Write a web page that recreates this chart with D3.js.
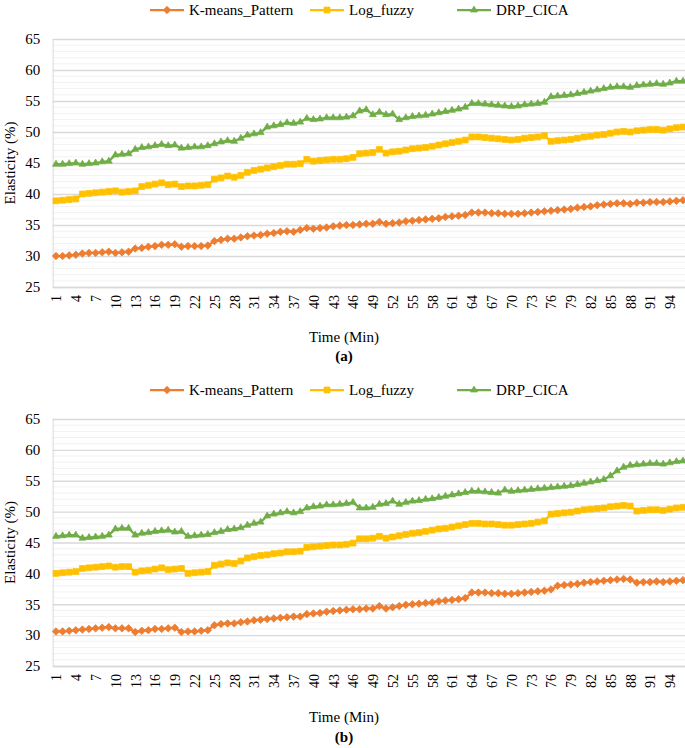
<!DOCTYPE html>
<html>
<head>
<meta charset="utf-8">
<script src="https://cdn.jsdelivr.net/npm/d3@7"></script>
<style>
  html, body { margin: 0; padding: 0; background: #fff; }
  svg { display: block; }
  svg text { font-family: "Liberation Serif", "DejaVu Serif", serif !important; fill: #000; }
</style>
</head>
<body>
<svg id="chart" width="685" height="748"></svg>
<script>
// ---------- data ----------
const timeMin = [1,2,3,4,5,6,7,8,9,10,11,12,13,14,15,16,17,18,19,20,21,22,23,24,25,26,27,28,29,30,31,32,33,34,35,36,37,38,39,40,41,42,43,44,45,46,47,48,49,50,51,52,53,54,55,56,57,58,59,60,61,62,63,64,65,66,67,68,69,70,71,72,73,74,75,76,77,78,79,80,81,82,83,84,85,86,87,88,89,90,91,92,93,94,95,96];
const tickLabels = [1,4,7,10,13,16,19,22,25,28,31,34,37,40,43,46,49,52,55,58,61,64,67,70,73,76,79,82,85,88,91,94];
const yTicks = [25,30,35,40,45,50,55,60,65];
const seriesNames = ["K-means_Pattern", "Log_fuzzy", "DRP_CICA"];

// Panel (a)
const kmeansA = [30.0,30.0,30.1,30.2,30.4,30.5,30.5,30.6,30.7,30.5,30.6,30.7,31.2,31.3,31.5,31.6,31.8,31.8,31.9,31.5,31.6,31.6,31.6,31.7,32.4,32.6,32.8,32.8,33.0,33.2,33.3,33.4,33.6,33.7,33.9,34.0,33.9,34.2,34.5,34.4,34.5,34.6,34.8,34.9,35.0,35.0,35.1,35.2,35.2,35.5,35.2,35.3,35.4,35.6,35.7,35.8,35.9,36.0,36.1,36.3,36.4,36.5,36.6,37.0,37.0,37.0,36.9,36.9,36.8,36.8,36.8,36.9,37.0,37.1,37.2,37.3,37.4,37.5,37.6,37.8,37.9,38.0,38.2,38.3,38.4,38.5,38.5,38.4,38.6,38.6,38.7,38.7,38.7,38.8,38.9,39.0];
const logFuzzyA = [38.9,39.0,39.1,39.2,40.0,40.1,40.2,40.3,40.4,40.5,40.3,40.4,40.5,41.2,41.4,41.6,41.8,41.5,41.6,41.2,41.3,41.3,41.4,41.5,42.4,42.6,42.9,42.7,43.0,43.5,43.8,44.0,44.2,44.4,44.6,44.8,44.8,44.9,45.6,45.3,45.4,45.5,45.6,45.6,45.7,45.9,46.5,46.6,46.7,47.2,46.6,46.8,46.9,47.1,47.3,47.4,47.5,47.7,47.9,48.1,48.3,48.5,48.7,49.2,49.2,49.1,49.0,48.9,48.8,48.7,48.8,49.0,49.1,49.2,49.4,48.5,48.6,48.7,48.8,49.0,49.2,49.3,49.5,49.6,49.8,50.0,50.1,50.0,50.2,50.3,50.4,50.4,50.3,50.5,50.7,50.8];
const drpCicaA = [44.8,44.8,44.9,45.0,44.8,44.9,45.0,45.2,45.3,46.3,46.4,46.5,47.2,47.5,47.6,47.8,48.0,47.8,47.9,47.4,47.5,47.6,47.6,47.8,48.1,48.4,48.6,48.5,49.0,49.5,49.7,49.9,50.8,51.0,51.2,51.5,51.4,51.6,52.2,52.0,52.1,52.3,52.3,52.3,52.4,52.6,53.4,53.6,52.8,53.2,52.8,52.9,52.0,52.3,52.5,52.6,52.7,52.9,53.1,53.3,53.5,53.7,54.0,54.6,54.6,54.5,54.4,54.3,54.2,54.1,54.2,54.4,54.5,54.6,54.8,55.7,55.8,55.9,56.0,56.2,56.4,56.6,56.8,57.0,57.2,57.3,57.3,57.2,57.5,57.6,57.7,57.8,57.7,57.9,58.2,58.2];

// Panel (b)
const kmeansB = [30.6,30.6,30.7,30.8,30.9,31.0,31.1,31.2,31.3,31.1,31.1,31.1,30.5,30.7,30.8,31.0,31.0,31.1,31.2,30.5,30.6,30.6,30.7,30.8,31.6,31.8,31.9,31.9,32.1,32.2,32.4,32.5,32.6,32.7,32.8,32.9,33.0,33.0,33.4,33.5,33.6,33.8,33.9,34.0,34.1,34.2,34.2,34.3,34.3,34.7,34.3,34.5,34.7,34.9,35.0,35.1,35.2,35.3,35.5,35.6,35.7,35.8,36.0,36.9,36.9,36.9,36.8,36.8,36.7,36.7,36.8,36.9,37.0,37.1,37.2,37.4,38.0,38.1,38.2,38.3,38.5,38.6,38.7,38.8,38.9,39.0,39.1,39.0,38.5,38.6,38.6,38.7,38.6,38.7,38.8,38.9];
const logFuzzyB = [40.0,40.1,40.2,40.3,40.8,40.9,41.0,41.1,41.2,41.0,41.1,41.1,40.2,40.4,40.5,40.7,40.9,40.6,40.7,40.8,40.0,40.1,40.2,40.3,41.3,41.5,41.7,41.6,42.0,42.5,42.7,42.9,43.0,43.2,43.3,43.5,43.5,43.6,44.2,44.3,44.4,44.5,44.6,44.6,44.7,44.9,45.6,45.6,45.7,46.0,45.7,45.9,46.1,46.3,46.5,46.6,46.8,47.0,47.2,47.3,47.5,47.7,47.9,48.1,48.1,48.0,48.0,47.9,47.8,47.8,47.9,48.0,48.1,48.3,48.5,49.6,49.7,49.8,49.9,50.1,50.3,50.4,50.5,50.6,50.8,50.9,51.0,50.9,50.1,50.2,50.3,50.3,50.2,50.4,50.6,50.7];
const drpCicaB = [46.0,46.1,46.2,46.2,45.7,45.8,45.9,46.0,46.2,47.2,47.3,47.3,46.2,46.5,46.6,46.8,46.9,47.0,46.7,46.8,46.0,46.1,46.2,46.3,46.6,46.8,47.1,47.2,47.4,47.8,48.1,48.3,49.3,49.6,49.8,50.0,49.8,50.0,50.6,50.8,50.9,51.1,51.1,51.2,51.3,51.5,50.6,50.6,50.7,51.2,51.3,51.7,51.2,51.5,51.7,51.8,52.0,52.1,52.3,52.5,52.7,52.9,53.1,53.3,53.3,53.2,53.1,53.0,53.5,53.3,53.4,53.5,53.6,53.7,53.8,53.9,54.0,54.1,54.2,54.4,54.6,54.8,55.0,55.2,55.8,56.6,57.2,57.5,57.6,57.7,57.8,57.8,57.7,57.9,58.1,58.2];

// ---------- styles ----------
const colors = ["#ED7D31", "#FFC000", "#70AD47"];
const symbols = [d3.symbolDiamond2, d3.symbolSquare2, d3.symbolTriangle2];
const symSizes = [36, 44, 34];

const svg = d3.select("#chart");

function drawPanel(cfg) {
  const { top, bottom, legendY, titleY, labelY, label, series } = cfg;
  const left = 52.7, right = 686.3;
  const g = svg.append("g");

  const x = d3.scalePoint().domain(timeMin).range([left, right]).padding(0.5);
  const y = d3.scaleLinear().domain([25, 65]).range([bottom, top]);

  // minor gridlines
  const minor = d3.range(26, 65).filter(v => v % 5 !== 0);
  g.append("g").selectAll("line").data(minor).join("line")
    .attr("x1", left).attr("x2", right)
    .attr("y1", d => y(d)).attr("y2", d => y(d))
    .attr("stroke", "#F2F2F2").attr("stroke-width", 1);

  // major gridlines via axis
  const yAxis = d3.axisLeft(y).tickValues(yTicks).tickSize(-(right - left)).tickPadding(12);
  const ya = g.append("g").attr("transform", `translate(${left},0)`).call(yAxis);
  ya.select(".domain").attr("stroke", "#D9D9D9");
  ya.selectAll(".tick line").attr("stroke", "#D9D9D9").attr("stroke-width", 1.3);
  ya.selectAll(".tick text").attr("font-size", 15).attr("fill", "#000").attr("x", -12.5);

  // x axis
  const xAxis = d3.axisBottom(x).tickValues(tickLabels).tickSize(0).tickPadding(0);
  const xa = g.append("g").attr("transform", `translate(0,${bottom})`).call(xAxis);
  xa.select(".domain").attr("stroke", "#D9D9D9").attr("stroke-width", 1.3);
  xa.selectAll(".tick text")
    .attr("font-size", 14).attr("fill", "#000")
    .attr("transform", "rotate(-90)")
    .attr("text-anchor", "end")
    .attr("x", -8).attr("y", 0).attr("dy", "0.35em");

  // series
  const line = d3.line().x((d, i) => x(timeMin[i])).y(d => y(d));
  series.forEach((vals, si) => {
    g.append("path").datum(vals)
      .attr("d", line).attr("fill", "none")
      .attr("stroke", colors[si]).attr("stroke-width", 2.25).attr("stroke-linejoin", "round");
    const sym = d3.symbol().type(symbols[si]).size(symSizes[si]);
    g.append("g").selectAll("path").data(vals).join("path")
      .attr("d", sym)
      .attr("transform", (d, i) => `translate(${x(timeMin[i])},${y(d)})`)
      .attr("fill", colors[si]).attr("stroke", colors[si]).attr("stroke-width", 0.75);
  });

  // axis titles
  g.append("text").attr("transform", `translate(10,${(top + bottom) / 2}) rotate(-90)`)
    .attr("text-anchor", "middle").attr("dy", "0.35em").attr("font-size", 15).text("Elasticity (%)");
  g.append("text").attr("x", 344).attr("y", titleY).attr("text-anchor", "middle")
    .attr("font-size", 15).text("Time (Min)");
  g.append("text").attr("x", 344).attr("y", labelY).attr("text-anchor", "middle")
    .attr("font-size", 15).attr("font-weight", "bold").text(label);

  // legend
  const legendX = [150, 310, 457];
  seriesNames.forEach((name, si) => {
    const lg = g.append("g").attr("transform", `translate(${legendX[si]},${legendY})`);
    lg.append("line").attr("x1", 0).attr("x2", 34).attr("y1", 0).attr("y2", 0)
      .attr("stroke", colors[si]).attr("stroke-width", 2.25);
    lg.append("path").attr("d", d3.symbol().type(symbols[si]).size(symSizes[si]))
      .attr("transform", "translate(17,0)").attr("fill", colors[si]).attr("stroke", colors[si]).attr("stroke-width", 0.75);
    lg.append("text").attr("x", 39).attr("y", 0).attr("dy", "0.35em").attr("font-size", 15).text(name);
  });
}

drawPanel({ top: 39, bottom: 287, legendY: 10, titleY: 342, labelY: 361, label: "(a)",
  series: [kmeansA, logFuzzyA, drpCicaA] });
drawPanel({ top: 419, bottom: 666, legendY: 390, titleY: 722, labelY: 742, label: "(b)",
  series: [kmeansB, logFuzzyB, drpCicaB] });
</script>
</body>
</html>
